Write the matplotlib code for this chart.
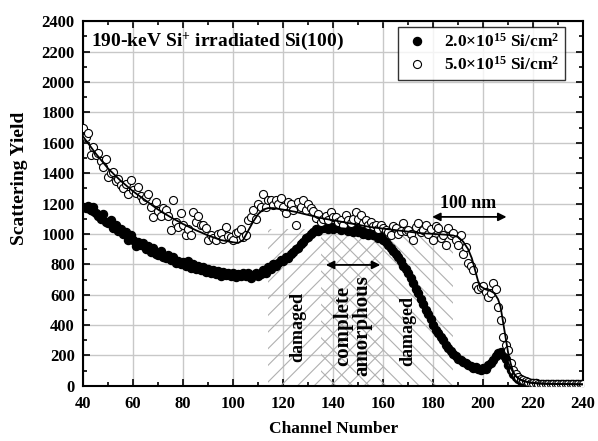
import numpy as np
import matplotlib
matplotlib.use("Agg")
import matplotlib.pyplot as plt
from matplotlib.patches import Rectangle
from matplotlib.ticker import MultipleLocator

plt.rcParams['font.family'] = ['Liberation Serif', 'DejaVu Serif']
plt.rcParams['font.weight'] = 'bold'
plt.rcParams['mathtext.fontset'] = 'custom'
plt.rcParams['mathtext.rm'] = 'Liberation Serif:bold'
plt.rcParams['mathtext.bf'] = 'Liberation Serif:bold'
plt.rcParams['mathtext.it'] = 'Liberation Serif:bold'
plt.rcParams['hatch.linewidth'] = 0.8

# ---- data ----
channels = np.arange(40, 241)

# 2.0e15 Si/cm2 (filled)
yield_low = [
    1180, 1170, 1185, 1160, 1175, 1140, 1120, 1100, 1130, 1080,
    1070, 1090, 1040, 1060, 1020, 1035, 1000, 1010, 960, 990,
    960, 920, 950, 930, 940, 900, 920, 880, 905, 870,
    860, 885, 850, 840, 860, 830, 845, 810, 825, 800,
    815, 790, 820, 775, 800, 770, 790, 760, 780, 750,
    770, 745, 760, 735, 755, 725, 750, 730, 745, 720,
    740, 715, 735, 725, 745, 720, 740, 710, 730, 745,
    720, 735, 760, 740, 780, 770, 800, 790, 810, 830,
    820, 850, 840, 870, 880, 900, 910, 935, 950, 970,
    980, 1000, 1010, 1030, 1020, 1045, 1040, 1050, 1035, 1045,
    1030, 1050, 1040, 1025, 1045, 1030, 1020, 1040, 1015, 1030,
    1010, 1025, 1000, 1015, 995, 1010, 990, 1000, 975, 985,
    960, 950, 930, 910, 890, 870, 845, 820, 790, 770,
    740, 710, 680, 640, 610, 570, 540, 500, 470, 440,
    400, 370, 350, 320, 300, 270, 250, 230, 210, 195,
    180, 170, 160, 150, 140, 130, 120, 125, 110, 105,
    115, 110, 135, 150, 170, 195, 215, 220, 200, 175,
    140, 105, 80, 60, 45, 35, 30, 25, 22, 20,
    18, 16, 15, 14, 15, 13, 12, 14, 12, 11,
    12, 10, 11, 12, 10, 11, 10, 12, 10, 11,
    10,
]

# 5.0e15 Si/cm2 (open)
yield_high = [
    1700, 1640, 1665, 1520, 1575, 1520, 1530, 1480, 1440, 1490,
    1375, 1400, 1410, 1345, 1360, 1320, 1300, 1330, 1260, 1355,
    1290, 1270, 1310, 1250, 1225, 1240, 1260, 1180, 1110, 1210,
    1150, 1115, 1170, 1160, 1120, 1025, 1225, 1080, 1045, 1140,
    1060, 995, 1030, 995, 1145, 1080, 1115, 1060, 1060, 1040,
    960, 995, 975, 960, 1000, 1005, 965, 1045, 985, 980,
    960, 1005, 1010, 1030, 980, 995, 1090, 1110, 1160, 1100,
    1200, 1175, 1265, 1180, 1220, 1225, 1190, 1225, 1200, 1235,
    1175, 1140, 1210, 1200, 1160, 1060, 1210, 1180, 1225, 1160,
    1195, 1170, 1150, 1105, 1130, 1080, 1100, 1120, 1090, 1145,
    1110, 1110, 1080, 1090, 1060, 1125, 1090, 1070, 1100, 1145,
    1100, 1125, 1075, 1090, 1060, 1080, 1050, 1060, 1035, 1060,
    1040, 1025, 1010, 990, 1050, 1040, 1000, 1020, 1070, 1020,
    1025, 1000, 960, 1045, 1070, 1010, 1025, 1060, 1000, 1030,
    960, 1050, 1040, 975, 995, 930, 1040, 990, 1005, 960,
    930, 990, 870, 915, 810, 790, 760, 655, 640, 650,
    655, 620, 585, 610, 680, 640, 520, 435, 320, 270,
    235, 150, 105, 80, 60, 45, 40, 35, 25, 20,
    18, 16, 15, 14, 13, 14, 12, 13, 12, 11,
    12, 11, 10, 11, 12, 10, 11, 10, 11, 10,
    10,
]

# fitted curves
fit_low_ch = [40, 45, 50, 55, 60, 65, 70, 75, 80, 85, 90, 95, 100, 105, 110, 113,
              116, 120, 125, 130, 134, 137, 140, 145, 150, 155, 158, 160, 162, 164,
              166, 168, 170, 172, 174, 176, 178, 180, 182, 184, 186, 188, 190, 192,
              194, 196, 198, 200, 202, 204, 205.5, 207, 208, 209.5, 211, 212.5, 214,
              216, 219, 225, 240]
fit_low = [1160, 1110, 1060, 1010, 965, 925, 885, 850, 815, 785, 760, 740, 725, 715,
           712, 720, 755, 815, 895, 975, 1025, 1040, 1042, 1035, 1025, 1005, 990, 970,
           940, 900, 855, 800, 740, 670, 600, 530, 460, 400, 345, 295, 255, 220, 190,
           165, 145, 130, 118, 115, 125, 155, 195, 220, 210, 170, 120, 75, 50, 32, 20,
           14, 10]

fit_high_ch = [40, 45, 50, 55, 60, 65, 70, 75, 80, 85, 90, 95, 100, 102, 104, 106,
               108, 110, 112, 114, 116, 120, 125, 130, 135, 140, 145, 150, 155, 160,
               165, 170, 175, 180, 185, 188, 190, 192, 194, 195.5, 197, 198, 199, 201,
               203, 204.5, 206, 207, 208, 209, 210, 211, 212, 213, 215, 218, 222, 230,
               240]
fit_high = [1640, 1530, 1430, 1350, 1280, 1220, 1160, 1110, 1065, 1025, 990, 960, 945,
            940, 960, 1020, 1080, 1130, 1160, 1170, 1170, 1160, 1145, 1125, 1105, 1090,
            1075, 1060, 1045, 1035, 1025, 1015, 1005, 1000, 995, 990, 980, 950, 900,
            840, 750, 690, 655, 635, 625, 610, 570, 520, 420, 320, 220, 150, 95, 65, 40,
            25, 15, 12, 10]

fig, ax = plt.subplots(figsize=(5.98, 4.41), dpi=100)
fig.subplots_adjust(left=0.139, right=0.975, bottom=0.125, top=0.952)

# damaged / amorphous regions (overlap gives the cross hatch)
ax.add_patch(Rectangle((114, 0), 46, 1030, fill=False, hatch='//',
                       edgecolor='#b0b0b0', linewidth=0, zorder=1))
ax.add_patch(Rectangle((135, 0), 53, 1030, fill=False, hatch='\\\\',
                       edgecolor='#b0b0b0', linewidth=0, zorder=1))

ax.plot(channels, yield_low, 'o', ms=5.8, color='black', zorder=3,
        label=r'2.0$\times$10$^{15}$ Si/cm$^2$')
ax.plot(channels, yield_high, 'o', ms=5.8, mfc='white', mec='black', mew=0.8,
        zorder=3, label=r'5.0$\times$10$^{15}$ Si/cm$^2$')
ax.plot(fit_low_ch, fit_low, '-', color='black', lw=1.3, zorder=4)
ax.plot(fit_high_ch, fit_high, '-', color='black', lw=1.3, zorder=4)

ax.set_xlim(40, 240)
ax.set_ylim(0, 2400)
ax.xaxis.set_major_locator(MultipleLocator(20))
ax.xaxis.set_minor_locator(MultipleLocator(10))
ax.yaxis.set_major_locator(MultipleLocator(200))
ax.yaxis.set_minor_locator(MultipleLocator(100))
ax.grid(True, which='major', color='#c8c8c8', lw=1, zorder=0)
ax.set_axisbelow(True)
ax.tick_params(which='both', direction='in', top=True, right=True, labelsize=12, width=1.2)
ax.tick_params(which='major', length=5)
ax.tick_params(axis='x', which='major', pad=7)
ax.tick_params(axis='y', which='major', pad=6)
ax.tick_params(which='minor', length=3)
for s in ax.spines.values():
    s.set_linewidth(1.5)

ax.set_xlabel('Channel Number', fontsize=12.5, fontweight='bold')
ax.xaxis.set_label_coords(0.5, -0.095)
ax.set_ylabel('Scattering Yield', fontsize=14, fontweight='bold')
ax.yaxis.set_label_coords(-0.11, 0.57)

ax.text(43.3, 2270, r'190-keV Si$^{+}$ irradiated Si(100)', fontsize=14,
        fontweight='bold', va='center', ha='left')

leg = ax.legend(loc='upper right', bbox_to_anchor=(0.964, 0.984), fontsize=12.5,
                frameon=True, fancybox=False, edgecolor='black', handletextpad=0.8,
                borderpad=0.35, labelspacing=0.3, handlelength=1.5, borderaxespad=0)
leg.get_frame().set_linewidth(1.0)

# annotations
ax.annotate('', xy=(136, 796), xytext=(160, 796),
            arrowprops=dict(arrowstyle='<|-|>', color='black', lw=1.3, mutation_scale=12))
ax.annotate('', xy=(178.5, 1112), xytext=(210.5, 1112),
            arrowprops=dict(arrowstyle='<|-|>', color='black', lw=1.3, mutation_scale=12))
ax.text(194, 1200, '100 nm', fontsize=13, fontweight='bold', ha='center', va='center')
ax.text(126, 390, 'damaged', fontsize=13, fontweight='bold', rotation=90,
        ha='center', va='center', zorder=5)
ax.text(148, 395, 'complete\namorphous', fontsize=15, fontweight='bold', rotation=90,
        ha='center', va='center', multialignment='center', linespacing=0.95, zorder=5)
ax.text(170, 360, 'damaged', fontsize=13, fontweight='bold', rotation=90,
        ha='center', va='center', zorder=5)

fig.savefig('out.png', dpi=100)
